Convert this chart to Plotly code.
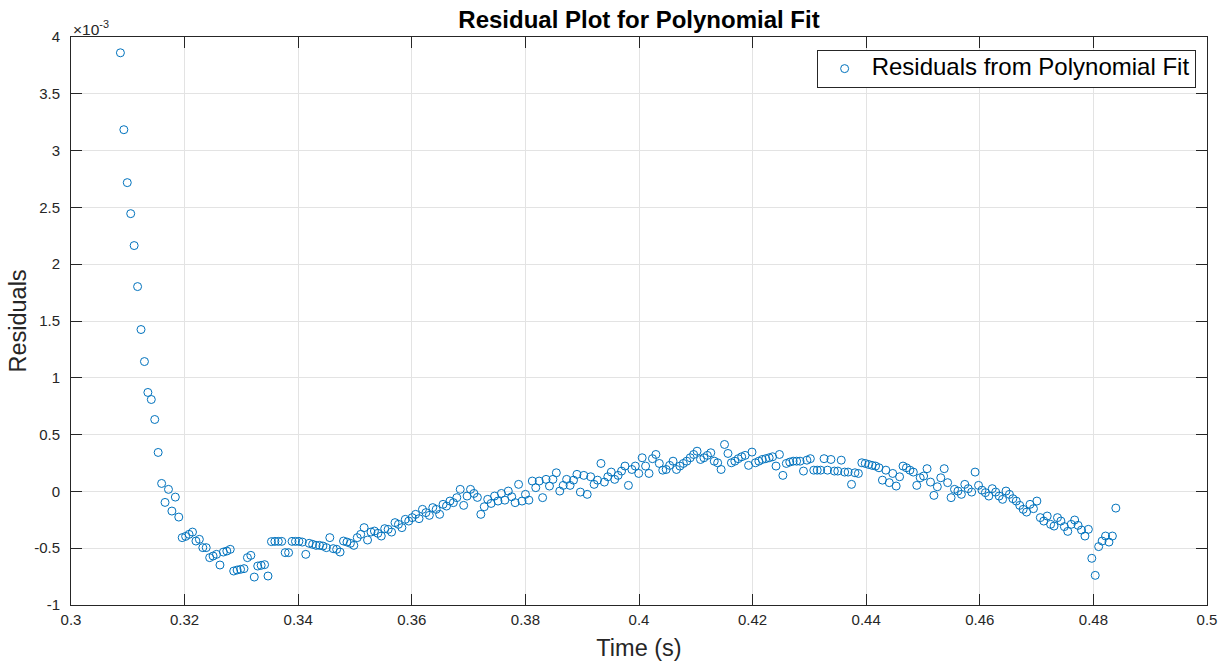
import numpy as np
import plotly.graph_objects as go

# Sample times span (s); samples are evenly spaced between these
t_start = 0.3087
t_end = 0.48395

# Residuals of the polynomial fit, in units of 1e-3
residuals_e3 = [
    3.861, 3.184, 2.718, 2.445, 2.164, 1.803, 1.425, 1.143, 0.871, 0.809,
    0.633, 0.343, 0.070, -0.097, 0.018, -0.173, -0.050, -0.226, -0.407, -0.396,
    -0.378, -0.358, -0.437, -0.422, -0.495, -0.495, -0.583, -0.569, -0.554, -0.648,
    -0.534, -0.525, -0.510, -0.701, -0.692, -0.686, -0.680, -0.583, -0.563, -0.754,
    -0.657, -0.651, -0.645, -0.745, -0.442, -0.440, -0.440, -0.440, -0.539, -0.539,
    -0.440, -0.440, -0.440, -0.446, -0.554, -0.457, -0.466, -0.475, -0.475, -0.481,
    -0.495, -0.407, -0.504, -0.510, -0.534, -0.437, -0.446, -0.457, -0.475, -0.407,
    -0.378, -0.319, -0.428, -0.358, -0.349, -0.369, -0.393, -0.328, -0.334, -0.358,
    -0.275, -0.290, -0.319, -0.246, -0.261, -0.231, -0.202, -0.240, -0.158, -0.187,
    -0.211, -0.143, -0.158, -0.202, -0.114, -0.129, -0.085, -0.099, -0.055, 0.018,
    -0.123, -0.041, 0.018, -0.018, -0.053, -0.202, -0.135, -0.070, -0.106, -0.041,
    -0.085, -0.018, -0.077, 0.003, -0.047, -0.099, 0.062, -0.085, -0.026, -0.077,
    0.091, 0.033, 0.091, -0.055, 0.106, 0.047, 0.106, 0.164, 0.003, 0.053,
    0.106, 0.053, 0.099, 0.150, -0.006, 0.141, -0.026, 0.129, 0.062, 0.099,
    0.246, 0.082, 0.129, 0.170, 0.106, 0.141, 0.179, 0.223, 0.053, 0.193,
    0.223, 0.158, 0.296, 0.223, 0.158, 0.288, 0.325, 0.246, 0.187, 0.193,
    0.229, 0.266, 0.193, 0.223, 0.246, 0.266, 0.296, 0.325, 0.354, 0.281,
    0.296, 0.317, 0.340, 0.266, 0.252, 0.193, 0.413, 0.334, 0.252, 0.266,
    0.288, 0.305, 0.317, 0.229, 0.346, 0.252, 0.266, 0.281, 0.288, 0.296,
    0.305, 0.223, 0.325, 0.141, 0.246, 0.258, 0.266, 0.266, 0.266, 0.179,
    0.275, 0.288, 0.187, 0.187, 0.187, 0.288, 0.187, 0.281, 0.179, 0.179,
    0.275, 0.170, 0.170, 0.062, 0.164, 0.158, 0.252, 0.246, 0.237, 0.229,
    0.223, 0.208, 0.099, 0.187, 0.077, 0.158, 0.047, 0.129, 0.223, 0.208,
    0.187, 0.170, 0.053, 0.120, 0.135, 0.200, 0.082, -0.035, 0.041, 0.120,
    0.200, 0.077, -0.055, 0.018, 0.003, -0.026, 0.062, 0.024, -0.006, 0.170,
    0.053, 0.011, -0.011, -0.041, 0.024, -0.006, -0.041, -0.070, 0.003, -0.026,
    -0.064, -0.085, -0.123, -0.158, -0.182, -0.114, -0.152, -0.085, -0.231, -0.261,
    -0.217, -0.290, -0.305, -0.231, -0.261, -0.310, -0.352, -0.290, -0.252, -0.299,
    -0.340, -0.393, -0.334, -0.589, -0.739, -0.486, -0.437, -0.393, -0.446, -0.393,
    -0.147,
]

x_ticks = [0.3, 0.32, 0.34, 0.36, 0.38, 0.4, 0.42, 0.44, 0.46, 0.48, 0.5]
x_tick_labels = ["0.3", "0.32", "0.34", "0.36", "0.38", "0.4", "0.42", "0.44", "0.46", "0.48", "0.5"]
y_ticks_e3 = [-1, -0.5, 0, 0.5, 1, 1.5, 2, 2.5, 3, 3.5, 4]
y_tick_labels = ["-1", "-0.5", "0", "0.5", "1", "1.5", "2", "2.5", "3", "3.5", "4"]

time_s = np.linspace(t_start, t_end, len(residuals_e3))
residuals = np.array(residuals_e3) * 1e-3

FONT = "Liberation Sans, Arial, Helvetica, sans-serif"
AXIS_COLOR = "#262626"
GRID_COLOR = "#e3e3e3"
BLUE = "#0072BD"

fig = go.Figure()
fig.add_trace(go.Scatter(
    x=time_s,
    y=residuals,
    mode="markers",
    name='<span style="font-size:24px">Residuals from Polynomial Fit</span>',
    marker=dict(symbol="circle-open", size=8, color=BLUE, line=dict(width=1, color=BLUE)),
))

axis_common = dict(
    showline=True,
    linecolor=AXIS_COLOR,
    linewidth=1,
    mirror="ticks",
    ticks="inside",
    ticklen=11,
    tickwidth=1,
    tickcolor=AXIS_COLOR,
    showgrid=True,
    gridcolor=GRID_COLOR,
    gridwidth=1,
    zeroline=False,
    automargin=False,
    tickfont=dict(family=FONT, size=15, color=AXIS_COLOR),
)

fig.update_xaxes(
    range=[0.3, 0.5],
    tickmode="array",
    tickvals=x_ticks,
    ticktext=x_tick_labels,
    ticklabelstandoff=1,
    title=dict(text="Time (s)", font=dict(family=FONT, size=23.5, color=AXIS_COLOR), standoff=12),
    **axis_common,
)
fig.update_yaxes(
    range=[-1e-3, 4e-3],
    tickmode="array",
    tickvals=[v * 1e-3 for v in y_ticks_e3],
    ticktext=y_tick_labels,
    ticklabelstandoff=7,
    title=dict(text="Residuals", font=dict(family=FONT, size=23.5, color=AXIS_COLOR), standoff=0),
    **axis_common,
)

fig.add_annotation(
    text="×10<sup>-3</sup>",
    xref="paper", yref="paper",
    x=0.0, y=1.0,
    xanchor="left", yanchor="bottom",
    showarrow=False,
    font=dict(family=FONT, size=15.5, color=AXIS_COLOR),
    yshift=-3,
)

fig.update_layout(
    width=1228,
    height=665,
    margin=dict(l=71, r=21, t=37, b=60),
    paper_bgcolor="white",
    plot_bgcolor="white",
    title=dict(
        text="<b>Residual Plot for Polynomial Fit</b>",
        x=0.5, xref="paper", xanchor="center",
        y=0.97, yanchor="middle",
        font=dict(family=FONT, size=24, color="#000000"),
    ),
    showlegend=True,
    legend=dict(
        x=0.990, y=0.977,
        xanchor="right", yanchor="top",
        bgcolor="white",
        bordercolor=AXIS_COLOR,
        borderwidth=1,
        itemwidth=44,
        font=dict(family=FONT, size=17, color="#000000"),
    ),
)

fig.write_html("out.html")
